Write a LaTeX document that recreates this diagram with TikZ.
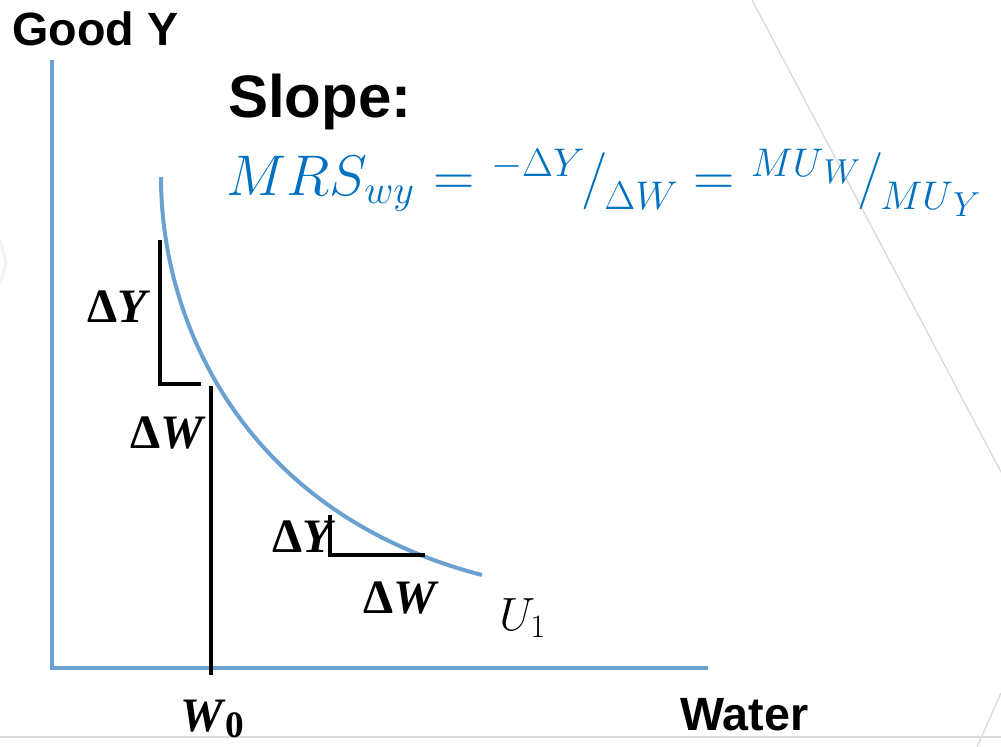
\RequirePackage{fix-cm}
\documentclass[tikz,border=0pt]{standalone}
\usepackage{amsmath}
\usepackage{fontspec}
\usetikzlibrary{positioning, calc}
\newfontfamily\arialfont{Liberation Sans}
\newfontfamily\timesfont{Liberation Serif}
\definecolor{cAxis}   {HTML}{6AA1D0}
\definecolor{cFormula}{HTML}{0070C0}
\definecolor{cDeco}   {HTML}{D9D9D9}
% skewed fraction as in the slide
\newcommand{\skewfrac}[2]{%
  \raisebox{14pt}{\fontsize{30}{34}\selectfont #1}\mkern-1mu/\mkern-1mu%
  \raisebox{-11pt}{\fontsize{30}{34}\selectfont #2}}
\newcommand{\lowsub}[1]{\raisebox{-5pt}{\fontsize{26}{30}\selectfont $#1$}}

\begin{document}
\begin{tikzpicture}[x=0.75pt, y=-0.75pt,
    axisline/.style={draw=cAxis, line width=3pt},
    stepline/.style={draw=black, line width=3pt},
    decoline/.style={draw=cDeco, line width=1pt},
    axislabel/.style={font=\arialfont\bfseries\fontsize{35}{40}\selectfont, inner sep=0pt, anchor=base west},
    deltalabel/.style={font=\timesfont\bfseries\fontsize{36}{40}\selectfont, inner sep=0pt, anchor=base west},
  ]
  \useasboundingbox (0,0) rectangle (1001,747);
  % faint slide decoration
  \coordinate (decoA) at (752,0);    \coordinate (decoB) at (1001,472);
  \coordinate (decoC) at (977,747);  \coordinate (decoD) at (1001,693);
  \coordinate (decoE) at (0,737);    \coordinate (decoF) at (1001,737);
  \draw[decoline] (decoA) -- (decoB);
  \draw[decoline] (decoC) -- (decoD);
  \draw[decoline] (decoE) -- (decoF);
  \draw[decoline, draw=cDeco!35, line width=2pt] (0,240) -- (6,262) -- (0,285);
  % axes
  \coordinate (ytop) at (52,60);
  \coordinate (origin) at (52,668);
  \coordinate (xend) at (708,668);
  \draw[axisline] (ytop) -- (origin) -- (xend);
  \node[axislabel] (goody) at (12,45) {Good Y};
  \node[axislabel] (water) at (680,730) {Water};
  % indifference curve U_1
  \coordinate (uStart) at (161,177);
  \coordinate (uEnd) at (482,575);
  \draw[axisline] (uStart) .. controls (161,330) and (250,515) .. (uEnd);
  \node[inner sep=0pt, anchor=base west, font=\fontsize{35}{40}\selectfont] (ulabel) at (499,630) {$U_1$};
  % steep part of the curve
  \coordinate (stepTop) at (160,240);
  \coordinate (stepCorner) at (160,384);
  \coordinate (stepRight) at (201,384);
  \draw[stepline] (stepTop) -- (stepCorner) -- (stepRight);
  \node[deltalabel] (dyTop) at (87,322) {Δ\textit{Y}};
  % W_0 line
  \coordinate (wTop) at (211,386);
  \coordinate (wBottom) at (211,675);
  \draw[stepline] (wTop) -- (wBottom);
  \node[deltalabel] (dwTop) at (130,448) {Δ\textit{W}};
  \node[deltalabel] (wzero) at (180,731) {\textit{W}\raisebox{-5pt}{\fontsize{28}{30}\selectfont 0}};
  % flat part of the curve
  \coordinate (flatTop) at (330,515);
  \coordinate (flatCorner) at (330,555);
  \coordinate (flatRight) at (425,555);
  \draw[stepline] (flatTop) -- (flatCorner) -- (flatRight);
  \node[deltalabel] (dyLow) at (272,552) {Δ\textit{Y}};
  \node[deltalabel] (dwLow) at (363,613) {Δ\textit{W}};
  % slope text
  \node[inner sep=0pt, anchor=base west, font=\arialfont\bfseries\fontsize{45}{50}\selectfont] (slope) at (228,117) {Slope:};
  \node[inner sep=0pt, anchor=base west, text=cFormula, font=\fontsize{43}{48}\selectfont] (mrs) at (226,195)
    {$MRS_{wy}\mkern1mu = \skewfrac{$-\Delta Y$}{$\Delta W$} = \skewfrac{$MU$\lowsub{W}}{$MU$\lowsub{Y}}$};
\end{tikzpicture}
\end{document}
